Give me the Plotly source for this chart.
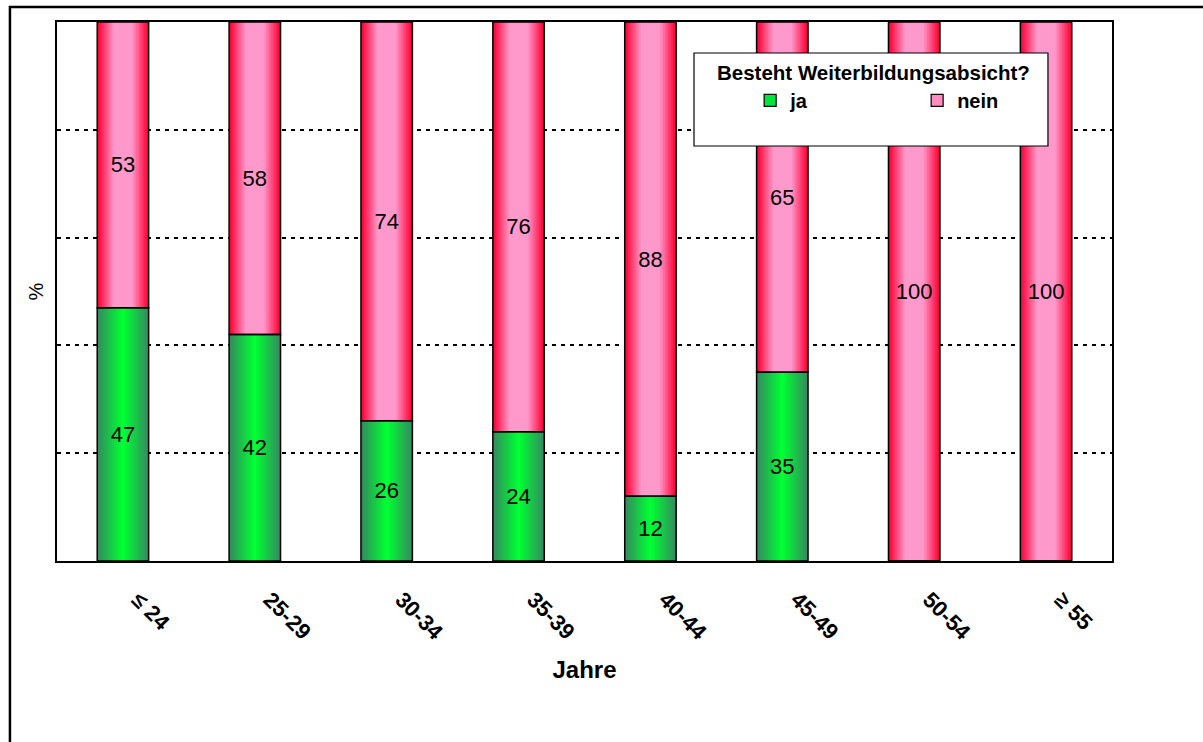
import plotly.graph_objects as go

# Altersgruppen und Anteile (%)
categories = ["≤ 24", "25-29", "30-34", "35-39", "40-44", "45-49", "50-54", "≥ 55"]
ja = [47, 42, 26, 24, 12, 35, 0, 0]
nein = [53, 58, 74, 76, 88, 65, 100, 100]

BAR_W = 0.39
LAYERS = 16
FONT = "Liberation Sans, Arial, sans-serif"

# Farbverlauf: Rand -> Mitte
GREEN_EDGE, GREEN_MID = (52, 140, 95), (0, 255, 51)
PINK_EDGE, PINK_MID = (255, 0, 51), (255, 153, 204)


def mix(a, b, t):
    return "rgb(%d,%d,%d)" % tuple(round(x + (y - x) * t) for x, y in zip(a, b))


fig = go.Figure()

# Horizontaler Verlauf durch übereinandergelegte, schmaler werdende Balken
for k in range(LAYERS):
    t = k / (LAYERS - 1)
    w = BAR_W * (1 - k / LAYERS)
    fig.add_trace(go.Bar(x=categories, y=ja, base=[0] * len(ja), width=w,
                         marker=dict(color=mix(GREEN_EDGE, GREEN_MID, t), line_width=0),
                         showlegend=False, hoverinfo="skip"))
    fig.add_trace(go.Bar(x=categories, y=nein, base=ja, width=w,
                         marker=dict(color=mix(PINK_EDGE, PINK_MID, min(1, t * 1.5)), line_width=0),
                         showlegend=False, hoverinfo="skip"))

# Umrisse und Beschriftungen
label_font = dict(family=FONT, size=22, color="black")
fig.add_trace(go.Bar(x=categories, y=ja, base=[0] * len(ja), width=BAR_W,
                     marker=dict(color="rgba(0,0,0,0)", line=dict(color="black", width=1.5)),
                     text=[str(v) if v else "" for v in ja], textposition="inside",
                     insidetextanchor="middle", textangle=0, textfont=label_font,
                     showlegend=False, hoverinfo="skip"))
fig.add_trace(go.Bar(x=categories, y=nein, base=ja, width=BAR_W,
                     marker=dict(color="rgba(0,0,0,0)", line=dict(color="black", width=1.5)),
                     text=[str(v) if v else "" for v in nein], textposition="inside",
                     insidetextanchor="middle", textangle=0, textfont=label_font,
                     showlegend=False, hoverinfo="skip"))

# Legendeneinträge
fig.add_trace(go.Bar(x=[None], y=[None], name="ja",
                     marker=dict(color="rgb(0,230,60)", line=dict(color="black", width=1.2))))
fig.add_trace(go.Bar(x=[None], y=[None], name="nein",
                     marker=dict(color="rgb(255,140,190)", line=dict(color="black", width=1.2))))

fig.update_layout(
    width=1203, height=742,
    margin=dict(l=57, r=91, t=22, b=181),
    barmode="overlay",
    paper_bgcolor="white", plot_bgcolor="white",
    font=dict(family=FONT, size=20, color="black"),
    showlegend=True,
    legend=dict(
        orientation="h", x=0.657, xanchor="left", y=0.8906, yanchor="top",
        bgcolor="rgba(0,0,0,0)", borderwidth=0,
        font=dict(size=20, weight="bold"), entrywidth=122, entrywidthmode="pixels",
        traceorder="normal",
    ),
    annotations=[
        dict(text="<b>Besteht Weiterbildungsabsicht?</b>", xref="paper", yref="paper",
             x=0.7735, y=0.9072, xanchor="center", yanchor="middle", showarrow=False,
             font=dict(size=20.5)),
    ],
    shapes=[
        # Rahmen um die gesamte Grafik
        dict(type="rect", xref="paper", yref="paper", x0=-0.0446, x1=1.3, y0=-0.5, y1=1.0278,
             line=dict(color="black", width=2.5), fillcolor="rgba(0,0,0,0)", layer="below"),
        # Legendenkasten
        dict(type="rect", xref="paper", yref="paper", x0=0.6038, x1=0.9393, y0=0.7699, y1=0.9425,
             line=dict(color="black", width=1.2), fillcolor="white", layer="above"),
    ],
)

fig.update_xaxes(
    type="category", range=[-0.5, 7.5],
    showline=True, mirror=True, linecolor="black", linewidth=2,
    showgrid=False, ticks="", tickangle=45, ticklabelstandoff=15, ticklabelshift=15,
    tickfont=dict(family=FONT, size=22, weight="bold"),
    title=dict(text="<b>Jahre</b>", font=dict(size=24), standoff=17),
)
fig.update_yaxes(
    range=[0, 100], tickvals=[20, 40, 60, 80], showticklabels=False, ticks="",
    showline=True, mirror=True, linecolor="black", linewidth=2,
    showgrid=True, gridcolor="black", gridwidth=1.5, griddash="4px,5px",
    zeroline=False,
    title=dict(text="%", font=dict(size=20), standoff=6),
)

fig.write_html("out.html")
